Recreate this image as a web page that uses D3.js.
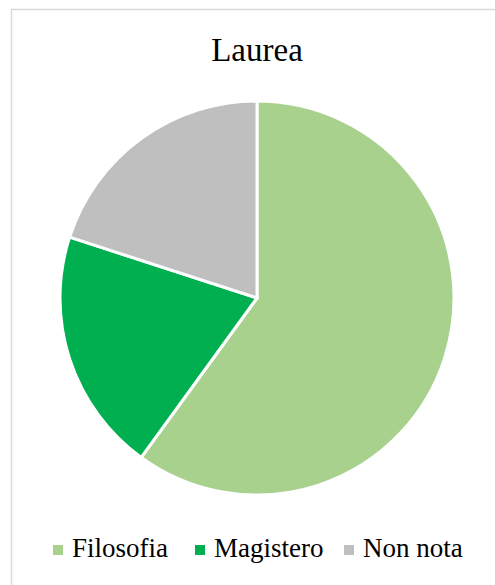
<!DOCTYPE html>
<html>
<head>
<meta charset="utf-8">
<script src="https://cdn.jsdelivr.net/npm/d3@7"></script>
<style>
  html, body { margin: 0; padding: 0; background: #fff; }
  svg { display: block; }
  svg text { font-family: "Liberation Serif", "Times New Roman", Times, "DejaVu Serif", serif; }
</style>
</head>
<body>
<svg id="chart" width="495" height="585"></svg>
<script>
// Degree subjects and head counts
const categories = ["Filosofia", "Magistero", "Non nota"];
const values = [3, 1, 1];
const colors = ["#A9D18E", "#00B050", "#BFBFBF"];
const title = "Laurea";

const width = 495, height = 585;
const svg = d3.select("#chart");

// Chart frame
svg.append("rect")
  .attr("x", 11.5).attr("y", 9.5)
  .attr("width", width).attr("height", height)
  .attr("fill", "#fff")
  .attr("stroke", "#D9D9D9")
  .attr("stroke-width", 1.5);

// Title
svg.append("text")
  .attr("x", 257).attr("y", 61)
  .attr("text-anchor", "middle")
  .style("font-size", "33px")
  .attr("fill", "#000")
  .text(title);

// Pie
const cx = 257, cy = 298, r = 197;
const pie = d3.pie().sort(null).value(d => d.value);
const arc = d3.arc().innerRadius(0).outerRadius(r);
const data = categories.map((c, i) => ({ name: c, value: values[i], color: colors[i] }));

svg.append("g")
  .attr("transform", `translate(${cx},${cy})`)
  .selectAll("path")
  .data(pie(data))
  .join("path")
  .attr("d", arc)
  .attr("fill", d => d.data.color)
  .attr("stroke", "#fff")
  .attr("stroke-width", 3)
  .attr("stroke-linejoin", "miter");

// Legend
const legendX = [53, 195, 344];
const legend = svg.append("g");
data.forEach((d, i) => {
  legend.append("rect")
    .attr("x", legendX[i]).attr("y", 545)
    .attr("width", 10).attr("height", 10)
    .attr("fill", d.color);
  legend.append("text")
    .attr("x", legendX[i] + 19).attr("y", 557)
    .style("font-size", "27px")
    .attr("fill", "#000")
    .text(d.name);
});
</script>
</body>
</html>
